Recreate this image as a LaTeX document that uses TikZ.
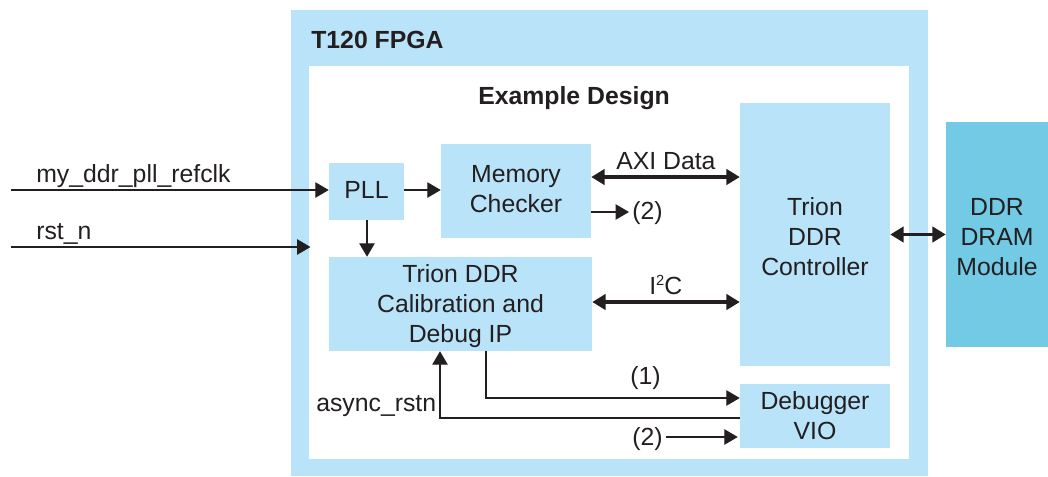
\documentclass[tikz,border=0pt]{standalone}
\usepackage{fontspec}
\setmainfont{Liberation Sans}
\usetikzlibrary{arrows.meta}
\definecolor{fpgablue}{HTML}{B9E3F9}
\definecolor{ddrblue}{HTML}{72CAE5}
\definecolor{inkc}{HTML}{231F20}
\def\pxu{0.75pt}
% lines of text moved down by #1 px without moving the box around them
\newcommand\shiftedtext[2]{\raisebox{-#1\dimexpr0.75pt\relax}[\height][\depth]{\begin{tabular}{@{}c@{}}#2\end{tabular}}}
\tikzset{
  x=0.75pt,y=-0.75pt,
  every node/.style={text=inkc,font=\fontsize{18.6}{22.5}\selectfont},
  blockbox/.style={fill=fpgablue,draw=none,inner sep=0pt,align=center},
  lbl/.style={inner sep=0pt,anchor=base west},
  mytip/.tip={Triangle[length=10pt,width=11.5pt]},
  thin line/.style={draw=inkc,line width=0.85pt,-mytip},
  thick line/.style={draw=inkc,line width=2.4pt,mytip-mytip},
}
\begin{document}
\begin{tikzpicture}
\useasboundingbox (0,0) rectangle (1048,476);
% containers
\fill[fpgablue] (291,10) rectangle (928,476);
\fill[white] (309,66) rectangle (909,459);
% blocks
\node[blockbox,minimum width=75*\pxu,minimum height=57*\pxu] (pll) at (366.5,191.5) {\shiftedtext{1}{PLL}};
\node[blockbox,minimum width=150*\pxu,minimum height=94*\pxu] (mem) at (516,191) {\shiftedtext{0.5}{Memory\\Checker}};
\node[blockbox,minimum width=263*\pxu,minimum height=94*\pxu] (cal) at (460.5,304) {\shiftedtext{2}{Trion DDR\\Calibration and\\Debug IP}};
\node[blockbox,minimum width=150*\pxu,minimum height=263*\pxu] (ctrl) at (815,234.5) {\shiftedtext{5}{Trion\\DDR\\Controller}};
\node[blockbox,minimum width=150*\pxu,minimum height=64*\pxu] (vio) at (815,416) {Debugger\\VIO};
\node[blockbox,fill=ddrblue,minimum width=102*\pxu,minimum height=225*\pxu] (dram) at (997,234.5) {\shiftedtext{5}{DDR\\DRAM\\Module}};
% titles
\node[lbl,font=\fontsize{18.6}{22.5}\selectfont\bfseries] (fpgat) at (311,48) {T120 FPGA};
\node[lbl,font=\fontsize{18.6}{22.5}\selectfont\bfseries] (dest) at (478,104) {Example Design};
% labels
\node[lbl] (clkl) at (36,182) {my\_ddr\_pll\_refclk};
\node[lbl] (rstl) at (36,239) {rst\_n};
\node[lbl] (axil) at (616,169) {AXI Data};
\node[lbl] (i2cl) at (649,294) {I\raisebox{6.5pt}{\fontsize{11}{11}\selectfont 2}C};
\node[lbl] (onel) at (630,384) {(1)};
\node[lbl] (asyl) at (316,411) {async\_rstn};
\node[lbl] (twoa) at (632,219) {(2)};
\node[lbl] (twob) at (632,445) {(2)};
% free ends and bends
\coordinate (clks) at (11,190);
\coordinate (rsts) at (11,247);
\coordinate (rste) at (310.5,247);
\coordinate (onec) at (486,398);
\coordinate (asyc) at (440,418);
\coordinate (twoy) at (666,437);
\coordinate (memy) at (629,212);
% connectors
\draw[thin line] (clks) -- (pll.west |- clks);
\draw[thin line] (rsts) -- (rste);
\draw[thin line] (pll.east |- clks) -- (mem.west |- clks);
\draw[thin line] (pll.south -| 367,0) -- (cal.north -| 367,0);
\draw[thin line] (mem.east |- memy) -- (memy);
\draw[thick line] (mem.east |- 0,177) -- (ctrl.west |- 0,177);
\draw[thick line] (cal.east |- 0,302) -- (ctrl.west |- 0,302);
\draw[thick line] (ctrl.east) -- (dram.west);
\draw[thin line] (cal.south -| onec) -- (onec) -- (vio.west |- onec);
\draw[thin line] (vio.west |- asyc) -- (asyc) -- (cal.south -| asyc);
\draw[thin line] (twoy) -- ([xshift=-1.5pt]vio.west |- twoy);
\end{tikzpicture}
\end{document}
